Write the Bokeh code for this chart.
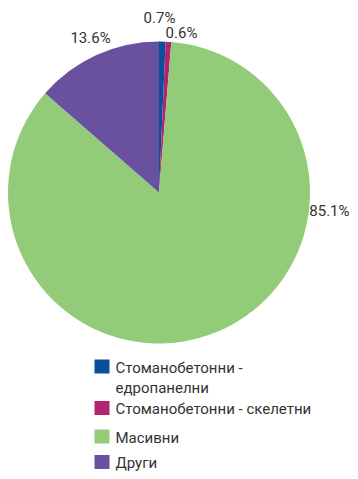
import numpy as np
from bokeh.plotting import figure
from bokeh.models import ColumnDataSource, Range1d
from bokeh.core.properties import value
from bokeh.embed import file_html
from bokeh.resources import INLINE

# ---- data ----
categories = ["Стоманобетонни - едропанелни", "Стоманобетонни - скелетни", "Масивни", "Други"]
legend_labels = ["Стоманобетонни -\nедропанелни", "Стоманобетонни  - скелетни", "Масивни", "Други"]
shares = [0.7, 0.6, 85.1, 13.6]
pct_labels = ["0.7%", "0.6%", "85.1%", "13.6%"]
colors = ["#0b4f9c", "#b3236f", "#93cc79", "#6a51a0"]

# ---- layout (pixel space, y measured from top) ----
W, H = 350, 471
cx, cy_top, R = 158.5, 192.0, 151.0
label_x = [159.0, 181.0, 349.0, 90.0]
label_y = [17.0, 32.0, 210.0, 37.0]
label_align = ["center", "center", "right", "center"]
leg_x = 101.5
leg_y = [366.0, 407.5, 436.0, 461.5]
FONT = value("Roboto")
TXT = "#333333"

vals = np.array(shares, dtype=float)
cum = np.cumsum(vals)
before = cum - vals
start = np.pi / 2 - 2 * np.pi * before / vals.sum()
end = np.pi / 2 - 2 * np.pi * cum / vals.sum()

p = figure(width=W, height=H, output_backend="svg", toolbar_location=None,
           x_range=Range1d(0, W), y_range=Range1d(0, H), min_border=0)
p.axis.visible = False
p.grid.visible = False
p.outline_line_color = None
p.background_fill_color = None
p.border_fill_color = None

src = ColumnDataSource(dict(start=start, end=end, color=colors, cat=categories))
p.wedge(x=cx, y=H - cy_top, radius=R, start_angle="start", end_angle="end", direction="clock",
        fill_color="color", line_color=None, source=src)

lsrc = ColumnDataSource(dict(x=label_x, y=[H - y for y in label_y], t=pct_labels, a=label_align))
p.text(x="x", y="y", text="t", source=lsrc, text_font=FONT, text_font_size="15px",
       text_color=TXT, text_align="a", text_baseline="middle")

# legend
sq_y = [H - y for y in leg_y]
p.rect(x=[leg_x] * 4, y=sq_y, width=15, height=14, fill_color=colors, line_color=None)
p.text(x=[leg_x + 13.5] * 4, y=[y + 8 for y in sq_y], text=legend_labels, text_font=FONT,
       text_font_size="15px", text_color=TXT, text_align="left", text_baseline="top",
       text_line_height=1.15)

open("out.html", "w").write(file_html(p, INLINE))
